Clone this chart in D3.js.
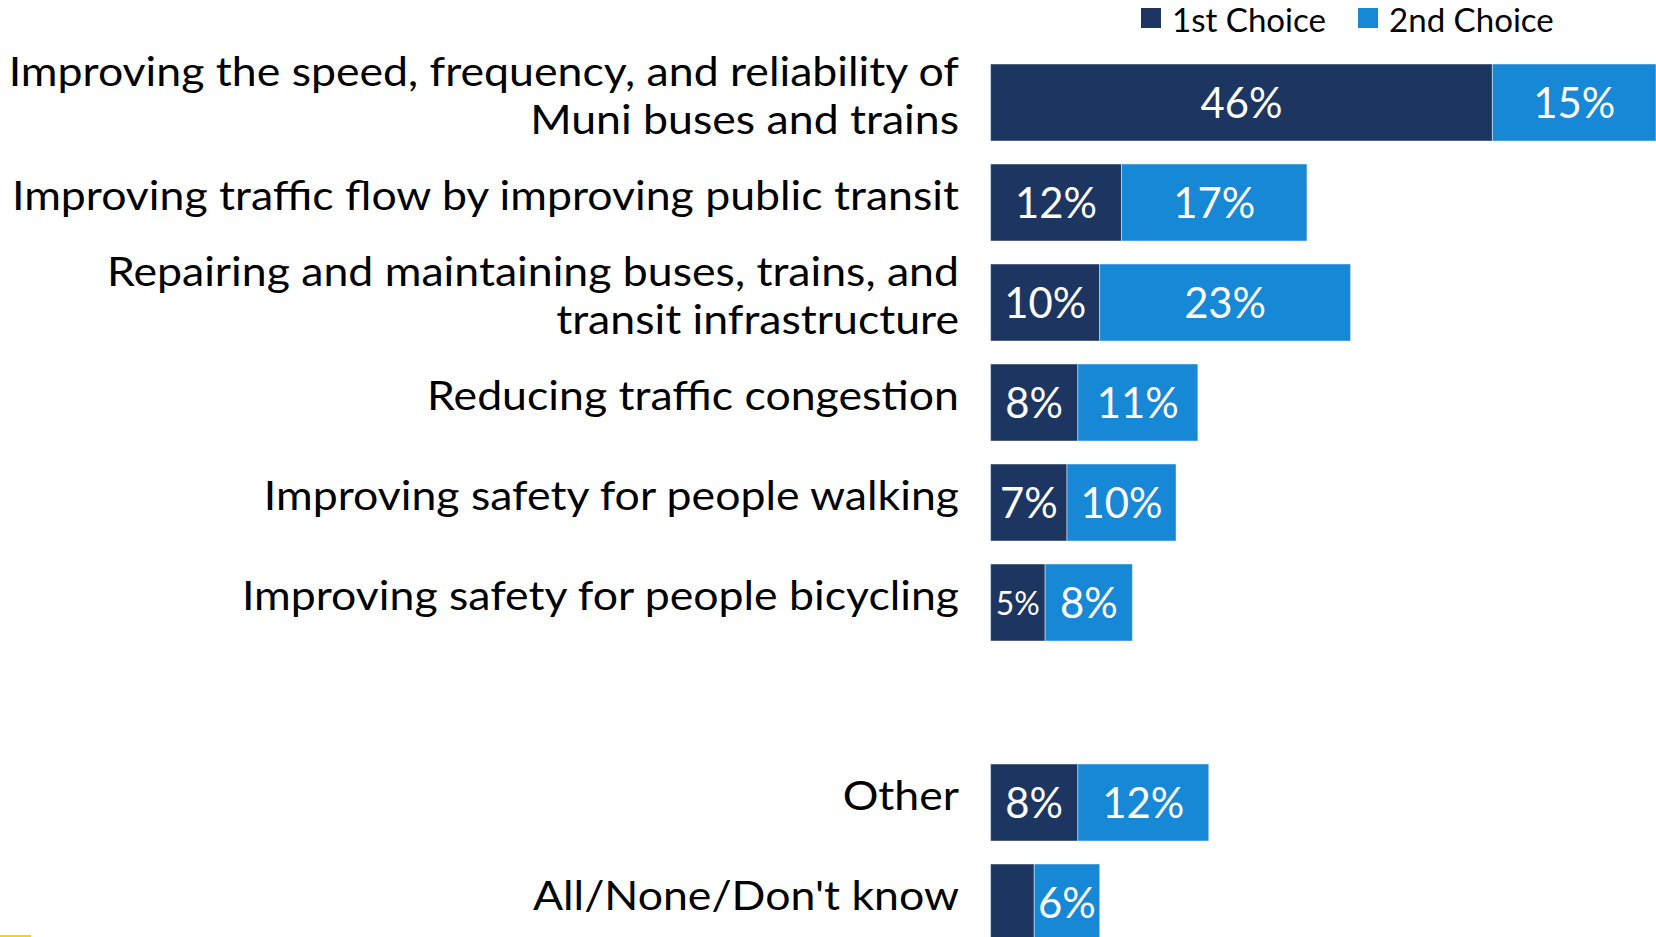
<!DOCTYPE html>
<html><head><meta charset="utf-8">
<script src="https://cdn.jsdelivr.net/npm/d3@7"></script>
<style>body{margin:0;background:#fff;overflow:hidden;} svg{display:block;}</style>
</head><body>
<svg id="c" width="1656" height="937"></svg>
<script>
// ---- data ----
const categories = [
  "Improving the speed, frequency, and reliability of|Muni buses and trains",
  "Improving traffic flow by improving public transit",
  "Repairing and maintaining buses, trains, and|transit infrastructure",
  "Reducing traffic congestion",
  "Improving safety for people walking",
  "Improving safety for people bicycling",
  "Other",
  "All/None/Don't know"
];
const firstChoice  = [46, 12, 10, 8, 7, 5, 8, 4];
const secondChoice = [15, 17, 23, 11, 10, 8, 12, 6];
const seriesNames  = ["1st Choice", "2nd Choice"];
const gapAfter = 5; // blank slot after this category index

// ---- styling ----
const colors = ["#1C3661", "#1788D6"];
const FONT = "Lato, 'Open Sans', sans-serif";

const svg = d3.select("#c");

// slot keys (with a spacer slot)
const keys = [];
categories.forEach((c, i) => { keys.push("c" + i); if (i === gapAfter) keys.push("gap"); });

const y = d3.scaleBand().domain(keys).range([52.5, 952.5]).paddingInner(0.23).paddingOuter(0.115);
const x = d3.scaleLinear().domain([0, 61]).range([990.6, 1656]);

const rows = categories.map((c, i) => ({
  key: "c" + i, label: c.split("|"), v1: firstChoice[i], v2: secondChoice[i]
}));

// measurement helper
const meas = svg.append("text").attr("font-family", FONT).attr("x", -9999).attr("y", -9999);
function textW(str, size) { meas.attr("font-size", size).text(str); return meas.node().getComputedTextLength(); }

const catSize = 40, valSize = 42, smallSize = 32, legSize = 32;
const catRatio = 947 / textW("Improving traffic flow by improving public transit", catSize);
const valRatio = 82 / textW("46%", valSize);
const legRatio = 154 / textW("1st Choice", legSize);

// bars
const g = svg.append("g");
rows.forEach(r => {
  const y0 = y(r.key), bh = y.bandwidth(), cy = y0 + bh / 2;
  const segs = [
    { x0: 0, x1: r.v1, v: r.v1, c: colors[0] },
    { x0: r.v1, x1: r.v1 + r.v2, v: r.v2, c: colors[1] }
  ];
  segs.forEach(s => {
    g.append("rect")
      .attr("x", x(s.x0)).attr("y", y0)
      .attr("width", x(s.x1) - x(s.x0)).attr("height", bh)
      .attr("fill", s.c)
      .attr("stroke", "#ffffff").attr("stroke-width", 1).attr("stroke-opacity", 0.45);
  });
  segs.forEach(s => {
    if (s.v < 5) return;
    const size = s.v <= 5 ? smallSize : valSize;
    const str = s.v + "%";
    const tw = textW(str, size) * valRatio;
    g.append("text")
      .attr("x", (x(s.x0) + x(s.x1)) / 2)
      .attr("y", cy + (size === smallSize ? 12 : 15.5))
      .attr("text-anchor", "middle")
      .attr("font-family", FONT).attr("font-size", size)
      .attr("fill", "#ffffff")
      .attr("textLength", tw).attr("lengthAdjust", "spacingAndGlyphs")
      .text(str);
  });
  // category label (one text element, lines as tspans)
  const lines = r.label;
  const offs = lines.length === 1 ? [7.5] : [-17, 31];
  const t = svg.append("text")
    .attr("text-anchor", "end")
    .attr("font-family", FONT).attr("font-size", catSize)
    .attr("fill", "#000000");
  lines.forEach((ln, k) => {
    t.append("tspan")
      .attr("x", 959).attr("y", cy + offs[k])
      .attr("textLength", textW(ln, catSize) * catRatio).attr("lengthAdjust", "spacingAndGlyphs")
      .text(ln);
  });
});

// legend
const legX = [1141, 1358];
seriesNames.forEach((n, i) => {
  svg.append("rect").attr("x", legX[i]).attr("y", 8).attr("width", 20).attr("height", 20).attr("fill", colors[i]);
  svg.append("text")
    .attr("x", legX[i] + 31).attr("y", 31.8)
    .attr("font-family", FONT).attr("font-size", legSize)
    .attr("fill", "#000000")
    .attr("textLength", textW(n, legSize) * legRatio).attr("lengthAdjust", "spacingAndGlyphs")
    .text(n);
});

// small accent line bottom-left
svg.append("rect").attr("x", 0).attr("y", 935).attr("width", 31).attr("height", 2).attr("fill", "#FFD100");

meas.remove();
</script>
</body></html>
